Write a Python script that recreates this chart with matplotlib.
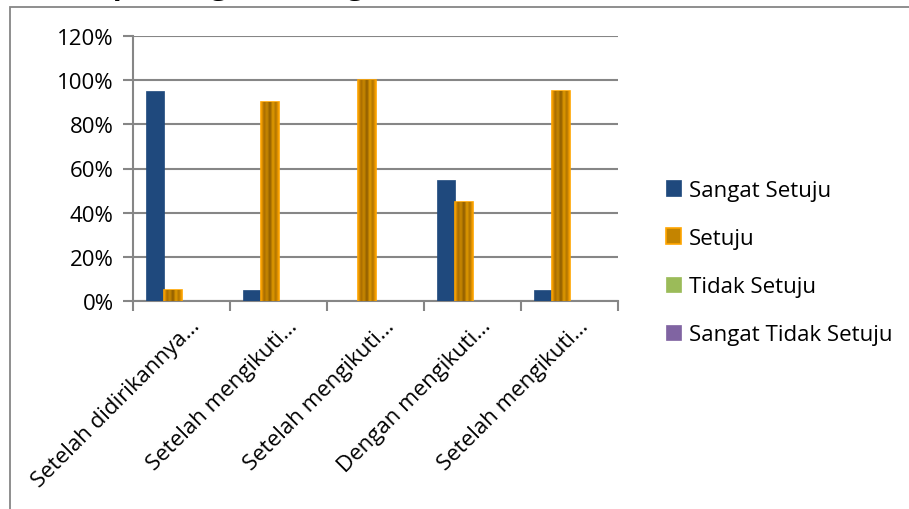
import numpy as np
import matplotlib
matplotlib.use("Agg")
import matplotlib.pyplot as plt
from matplotlib.patches import Rectangle
from matplotlib.ticker import FuncFormatter
from matplotlib.colors import LinearSegmentedColormap
import matplotlib.transforms as mtransforms

categories = ["Setelah didirikannya…", "Setelah mengikuti…", "Setelah mengikuti…",
              "Dengan mengikuti…", "Setelah mengikuti…"]
series_names = ["Sangat Setuju", "Setuju", "Tidak Setuju", "Sangat Tidak Setuju"]
sangat_setuju = [0.95, 0.05, 0.00, 0.55, 0.05]
setuju = [0.05, 0.90, 1.00, 0.45, 0.95]
tidak_setuju = [0, 0, 0, 0, 0]
sangat_tidak_setuju = [0, 0, 0, 0, 0]
yticks = [0, 0.2, 0.4, 0.6, 0.8, 1.0, 1.2]

colors = ["#1F497D", "#C48400", "#9BBB59", "#8064A2"]
edges = ["#1F497D", "#FFA500", "#9BBB59", "#8064A2"]
grid_col = "#868686"

plt.rcParams['font.family'] = ['Open Sans', 'DejaVu Sans']

fig = plt.figure(figsize=(9.09, 5.10), dpi=100)
ax = fig.add_axes([133/909, 1-302/510, (618-133)/909, (302-37)/510])

# chart border (cut off at right and bottom)
fig.patches.append(Rectangle((10/909, -0.1), 1.2, 1.1 - 8/510, transform=fig.transFigure,
                             fill=False, edgecolor=grid_col, linewidth=1.3))
# title, mostly cut off at the top edge
fig.text(45/909, 1+6.5/510, "Dampak Kegiatan Organisasi", fontsize=21, fontweight='bold',
         va='baseline', ha='left')

x = np.arange(len(categories))
w = 0.185
all_vals = [sangat_setuju, setuju, tidak_setuju, sangat_tidak_setuju]
bars = []
for i, vals in enumerate(all_vals):
    b = ax.bar(x + (i - 1.5) * w, vals, w, color=colors[i], edgecolor=edges[i],
               linewidth=1.2 if i == 1 else 0.5, label=series_names[i], zorder=3)
    bars.append(b)

# textured look for the "Setuju" bars
gold = LinearSegmentedColormap.from_list("gold", ["#FFA500", "#A86C00", "#C88800",
                                                  "#8E5C00", "#E09A00", "#B07400", "#FFA500"])
grad = np.linspace(0, 1, 64).reshape(1, -1)
for rect in bars[1]:
    x0, y0 = rect.get_x(), rect.get_y()
    im = ax.imshow(grad, cmap=gold, aspect='auto', zorder=3.5,
                   extent=(x0, x0 + rect.get_width(), y0, y0 + rect.get_height()))
    im.set_clip_path(rect)

ax.set_xlim(-0.5, len(categories) - 0.5)
ax.set_ylim(0, 1.2)
ax.set_yticks(yticks)
ax.yaxis.set_major_formatter(FuncFormatter(lambda v, p: f"{v*100:.0f}%"))
ax.grid(axis='y', color=grid_col, linewidth=1.5, zorder=0)
ax.set_axisbelow(True)
for s in ["top", "right"]:
    ax.spines[s].set_visible(False)
for s in ["left", "bottom"]:
    ax.spines[s].set_color(grid_col)
    ax.spines[s].set_linewidth(1.5)

ax.set_xticks(x)
ax.set_xticklabels(categories, rotation=45, ha='right', va='top', rotation_mode='anchor',
                   fontsize=16)
ax.set_xticks(np.arange(len(categories) + 1) - 0.5, minor=True)
ax.tick_params(axis='x', which='major', length=0, pad=0)
ax.tick_params(axis='x', which='minor', length=7, width=1.5, color=grid_col)
ax.tick_params(axis='y', length=7, width=1.5, color=grid_col, labelsize=16, pad=7)
offset = mtransforms.ScaledTranslation(8/100, -14/100, fig.dpi_scale_trans)
for lab in ax.get_xticklabels():
    lab.set_transform(lab.get_transform() + offset)

leg = ax.legend(loc='upper left', bbox_to_anchor=(657/909, 1-172/510),
                bbox_transform=fig.transFigure, frameon=False, fontsize=16,
                handlelength=0.7, handleheight=0.7, handletextpad=0.35,
                labelspacing=1.22, borderaxespad=0)

fig.savefig("out.png", dpi=100)
